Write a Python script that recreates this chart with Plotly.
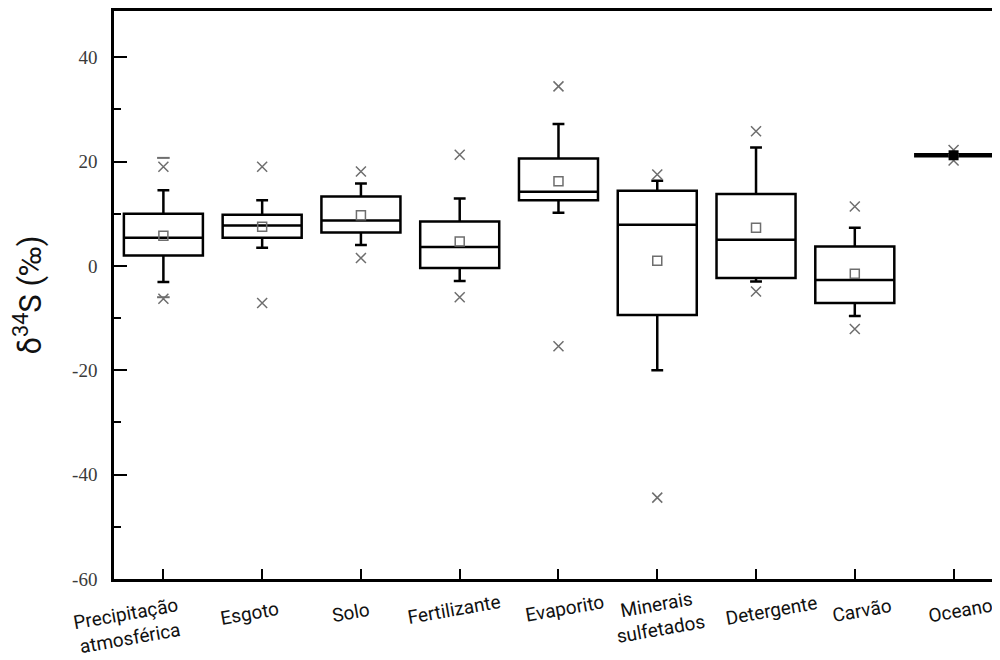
import plotly.graph_objects as go

categories = ["Precipitação atmosférica", "Esgoto", "Solo", "Fertilizante", "Evaporito",
              "Minerais sulfetados", "Detergente", "Carvão", "Oceano"]
labels = ["Precipitação<br>atmosférica", "Esgoto", "Solo", "Fertilizante", "Evaporito",
          "Minerais<br>sulfetados", "Detergente", "Carvão", "Oceano"]
q1 = [2.0, 5.4, 6.4, -0.4, 12.6, -9.4, -2.3, -7.1, 21.2]
median = [5.4, 7.75, 8.7, 3.6, 14.2, 7.9, 5.0, -2.7, 21.2]
q3 = [10.0, 9.8, 13.3, 8.5, 20.6, 14.4, 13.8, 3.7, 21.2]
whisker_low = [-3.1, 3.5, 4.0, -2.9, 10.2, -20.0, -3.0, -9.6, 21.2]
whisker_high = [14.5, 12.6, 15.8, 12.9, 27.2, 16.3, 22.7, 7.3, 21.2]
mean = [5.8, 7.5, 9.7, 4.7, 16.2, 1.0, 7.3, -1.5, 21.2]
p99 = [19.0, 19.0, 18.1, 21.3, 34.4, 17.5, 25.8, 11.4, 22.2]
p1 = [-6.3, -7.1, 1.5, -6.0, -15.4, -44.4, -4.9, -12.1, 20.2]
max_dash = [20.7, None, None, None, None, None, None, None, None]
min_dash = [-6.0, None, None, None, None, None, None, None, None]

y_ticks = [40, 20, 0, -20, -40, -60]
y_ticktext = ["40", "20", "0", "-20", "-40", "-60"]
y_minor = [30, 10, -10, -30, -50]

# label placement (pixel offsets from tick / from plot bottom)
label_xshift = [-35, -13, -10, -6, 6, 1, 15, 7, 7]
label_yshift = [-47, -34, -33, -30, -29, -38, -31, -31, -31]

fig = go.Figure()

for i, c in enumerate(categories):
    last = (i == len(categories) - 1)
    fig.add_trace(go.Box(
        x=[c], q1=[q1[i]], median=[median[i]], q3=[q3[i]],
        lowerfence=[whisker_low[i]], upperfence=[whisker_high[i]],
        fillcolor="white", line=dict(color="black", width=4.5 if last else 2.5),
        whiskerwidth=0.15, width=0.8, boxpoints=False, showlegend=False,
        hoverinfo="skip"))

gray = "#6e6e6e"
fig.add_trace(go.Scatter(
    x=categories[:-1], y=mean[:-1], mode="markers", showlegend=False,
    marker=dict(symbol="square-open", size=9, color=gray, line=dict(width=1.5, color=gray))))
fig.add_trace(go.Scatter(
    x=categories + categories, y=p99 + p1, mode="markers", showlegend=False,
    marker=dict(symbol="x-thin", size=10, color=gray, line=dict(width=1.5, color=gray))))
fig.add_trace(go.Scatter(
    x=categories[-1:], y=mean[-1:], mode="markers", showlegend=False,
    marker=dict(symbol="square", size=10, color="black")))
fig.add_trace(go.Scatter(
    x=categories + categories, y=max_dash + min_dash, mode="markers", showlegend=False,
    marker=dict(symbol="line-ew", size=9, color=gray, line=dict(width=2, color=gray))))

for c, lab, dx, dy in zip(categories, labels, label_xshift, label_yshift):
    fig.add_annotation(x=c, xref="x", y=0, yref="paper",
                       text=lab, showarrow=False, textangle=-10,
                       xshift=dx, yshift=dy,
                       font=dict(family="Roboto", size=19, color="#111"),
                       xanchor="center", yanchor="middle")

fig.update_layout(
    width=992, height=652,
    margin=dict(l=106, r=0, t=3, b=81),
    paper_bgcolor="white", plot_bgcolor="white",
    showlegend=False,
    xaxis=dict(type="category", categoryorder="array", categoryarray=categories,
               range=[-0.5, 8.47], showline=True, linecolor="black", linewidth=2.5,
               mirror=True, ticks="inside", ticklen=10, tickwidth=2, tickcolor="black",
               showticklabels=False, showgrid=False, zeroline=False, automargin=False),
    yaxis=dict(range=[-60, 48.85], showline=True, linecolor="black", linewidth=2.5,
               ticks="inside", ticklen=13, tickwidth=2, tickcolor="black",
               tickmode="array", tickvals=y_ticks, ticktext=y_ticktext,
               minor=dict(tickmode="array", tickvals=y_minor, ticks="inside",
                          ticklen=7, tickwidth=2, tickcolor="black"),
               tickfont=dict(family="Liberation Serif", size=19, color="#3a3a3a"),
               ticklabelstandoff=10, automargin=False,
               showgrid=False, zeroline=False,
               title=dict(text="δ<sup>34</sup>S (‰)", standoff=31,
                          font=dict(family="Roboto", size=31, color="#111"))),
)

fig.write_html("out.html")
